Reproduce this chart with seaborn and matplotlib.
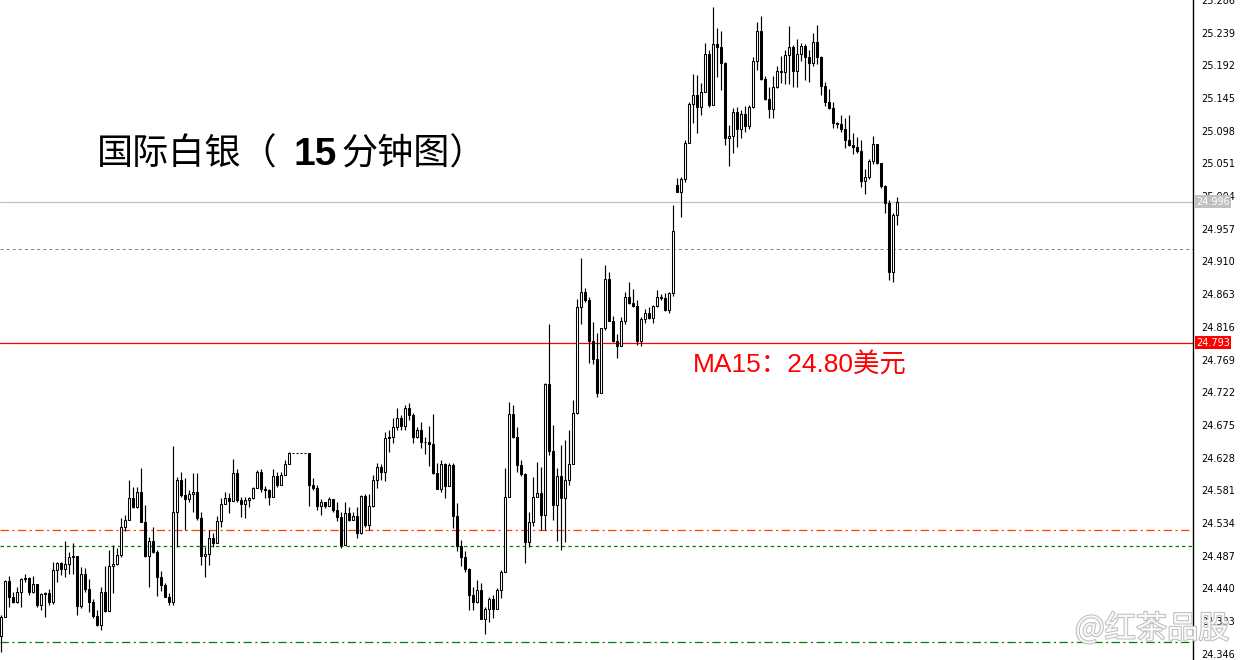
import numpy as np
import pandas as pd
import matplotlib
matplotlib.use("Agg")
import matplotlib.pyplot as plt
import matplotlib.transforms as mtransforms
import matplotlib.patheffects as pe
import seaborn as sns

# 국제은 15분봉 (종가 / 고가 / 저가), 시가는 직전 종가
close = [24.399, 24.450, 24.428, 24.420, 24.435, 24.453, 24.455, 24.435, 24.446, 24.416,
         24.432, 24.434, 24.421, 24.467, 24.476, 24.468, 24.475, 24.485, 24.486, 24.415,
         24.461, 24.439, 24.420, 24.400, 24.387, 24.435, 24.407, 24.472, 24.475, 24.488,
         24.528, 24.539, 24.570, 24.557, 24.579, 24.536, 24.486, 24.508, 24.493, 24.456,
         24.445, 24.428, 24.420, 24.550, 24.596, 24.574, 24.569, 24.576, 24.579, 24.541,
         24.487, 24.490, 24.512, 24.505, 24.537, 24.562, 24.570, 24.566, 24.606, 24.567,
         24.561, 24.567, 24.570, 24.585, 24.608, 24.583, 24.581, 24.571, 24.601, 24.588,
         24.603, 24.619, 24.634, 24.634, 24.634, 24.634, 24.634, 24.589, 24.584, 24.558,
         24.564, 24.558, 24.569, 24.553, 24.543, 24.502, 24.549, 24.539, 24.544, 24.520,
         24.573, 24.531, 24.559, 24.596, 24.614, 24.608, 24.656, 24.658, 24.672, 24.685,
         24.673, 24.699, 24.689, 24.658, 24.668, 24.651, 24.650, 24.648, 24.606, 24.583,
         24.619, 24.587, 24.618, 24.544, 24.501, 24.485, 24.468, 24.430, 24.421, 24.437,
         24.396, 24.411, 24.425, 24.411, 24.437, 24.464, 24.571, 24.691, 24.657, 24.618,
         24.605, 24.506, 24.536, 24.572, 24.577, 24.546, 24.734, 24.637, 24.560, 24.601,
         24.570, 24.596, 24.619, 24.692, 24.845, 24.866, 24.855, 24.796, 24.770, 24.721,
         24.814, 24.885, 24.825, 24.796, 24.789, 24.824, 24.859, 24.851, 24.846, 24.796,
         24.827, 24.836, 24.829, 24.846, 24.859, 24.857, 24.840, 24.865, 24.954, 25.010,
         25.028, 25.081, 25.136, 25.150, 25.132, 25.154, 25.208, 25.135, 25.223, 25.219,
         25.196, 25.087, 25.090, 25.125, 25.100, 25.122, 25.105, 25.132, 25.199, 25.242,
         25.172, 25.144, 25.129, 25.161, 25.184, 25.182, 25.207, 25.218, 25.184, 25.209,
         25.220, 25.204, 25.196, 25.225, 25.204, 25.162, 25.140, 25.130, 25.109, 25.108,
         25.101, 25.085, 25.078, 25.074, 25.069, 25.026, 25.031, 25.054, 25.079, 25.051,
         25.018, 24.994, 24.895, 24.977, 24.996]
high = [24.402, 24.452, 24.458, 24.435, 24.442, 24.455, 24.461, 24.456, 24.458, 24.446,
        24.434, 24.435, 24.439, 24.478, 24.478, 24.478, 24.508, 24.492, 24.505, 24.485,
        24.471, 24.469, 24.454, 24.425, 24.409, 24.442, 24.472, 24.495, 24.502, 24.498,
        24.541, 24.546, 24.596, 24.586, 24.586, 24.613, 24.560, 24.514, 24.528, 24.495,
        24.465, 24.448, 24.434, 24.645, 24.600, 24.607, 24.599, 24.582, 24.606, 24.606,
        24.550, 24.500, 24.524, 24.520, 24.544, 24.570, 24.579, 24.577, 24.626, 24.612,
        24.571, 24.571, 24.571, 24.586, 24.610, 24.612, 24.587, 24.583, 24.612, 24.607,
        24.607, 24.625, 24.636, 24.634, 24.634, 24.634, 24.634, 24.635, 24.599, 24.589,
        24.569, 24.564, 24.571, 24.569, 24.564, 24.550, 24.564, 24.557, 24.550, 24.557,
        24.574, 24.576, 24.576, 24.603, 24.620, 24.619, 24.665, 24.668, 24.685, 24.699,
        24.689, 24.704, 24.707, 24.692, 24.672, 24.679, 24.658, 24.674, 24.691, 24.620,
        24.625, 24.620, 24.620, 24.620, 24.563, 24.510, 24.494, 24.469, 24.442, 24.452,
        24.448, 24.413, 24.428, 24.431, 24.441, 24.467, 24.613, 24.708, 24.704, 24.672,
        24.625, 24.606, 24.550, 24.600, 24.622, 24.615, 24.735, 24.820, 24.675, 24.613,
        24.646, 24.653, 24.668, 24.711, 24.856, 24.915, 24.872, 24.859, 24.823, 24.807,
        24.814, 24.905, 24.895, 24.832, 24.806, 24.830, 24.866, 24.881, 24.870, 24.855,
        24.830, 24.842, 24.845, 24.848, 24.869, 24.863, 24.865, 24.866, 24.991, 25.030,
        25.032, 25.085, 25.139, 25.180, 25.178, 25.167, 25.224, 25.214, 25.276, 25.246,
        25.241, 25.197, 25.106, 25.131, 25.132, 25.128, 25.134, 25.135, 25.204, 25.254,
        25.263, 25.177, 25.161, 25.177, 25.191, 25.205, 25.214, 25.249, 25.221, 25.230,
        25.224, 25.223, 25.214, 25.239, 25.250, 25.205, 25.168, 25.158, 25.139, 25.111,
        25.121, 25.116, 25.121, 25.095, 25.089, 25.085, 25.043, 25.057, 25.091, 25.076,
        25.052, 25.020, 24.999, 24.980, 25.003]
low = [24.349, 24.402, 24.413, 24.419, 24.419, 24.413, 24.449, 24.431, 24.434, 24.413,
       24.409, 24.399, 24.416, 24.418, 24.449, 24.459, 24.456, 24.461, 24.461, 24.402,
       24.412, 24.435, 24.406, 24.398, 24.386, 24.380, 24.406, 24.408, 24.434, 24.474,
       24.485, 24.523, 24.538, 24.556, 24.556, 24.536, 24.485, 24.442, 24.491, 24.429,
       24.436, 24.428, 24.416, 24.416, 24.500, 24.571, 24.524, 24.564, 24.550, 24.538,
       24.474, 24.456, 24.474, 24.500, 24.507, 24.528, 24.563, 24.548, 24.567, 24.564,
       24.543, 24.541, 24.557, 24.569, 24.586, 24.579, 24.570, 24.560, 24.571, 24.586,
       24.590, 24.603, 24.619, 24.634, 24.634, 24.634, 24.634, 24.559, 24.582, 24.553,
       24.546, 24.556, 24.559, 24.550, 24.537, 24.498, 24.504, 24.537, 24.538, 24.512,
       24.518, 24.528, 24.524, 24.557, 24.584, 24.596, 24.594, 24.636, 24.649, 24.668,
       24.668, 24.668, 24.682, 24.649, 24.656, 24.642, 24.633, 24.616, 24.605, 24.583,
       24.579, 24.570, 24.587, 24.527, 24.494, 24.472, 24.464, 24.409, 24.409, 24.419,
       24.396, 24.375, 24.392, 24.398, 24.412, 24.426, 24.464, 24.573, 24.656, 24.607,
       24.602, 24.477, 24.500, 24.530, 24.571, 24.524, 24.524, 24.632, 24.538, 24.508,
       24.495, 24.507, 24.589, 24.620, 24.691, 24.820, 24.852, 24.764, 24.763, 24.715,
       24.721, 24.812, 24.824, 24.794, 24.771, 24.789, 24.820, 24.849, 24.845, 24.790,
       24.789, 24.822, 24.827, 24.822, 24.845, 24.855, 24.839, 24.836, 24.860, 25.010,
       24.974, 25.024, 25.080, 25.109, 25.095, 25.121, 25.154, 25.132, 25.135, 25.175,
       25.157, 25.078, 25.047, 25.066, 25.075, 25.088, 25.096, 25.101, 25.131, 25.185,
       25.171, 25.142, 25.116, 25.116, 25.160, 25.167, 25.165, 25.165, 25.161, 25.161,
       25.198, 25.171, 25.168, 25.191, 25.194, 25.149, 25.134, 25.129, 25.102, 25.102,
       25.096, 25.073, 25.076, 25.065, 25.066, 25.017, 25.007, 25.029, 25.050, 25.050,
       25.016, 24.980, 24.883, 24.881, 24.963]
first_open = 24.371
gap_open = {169: 25.020}   # 갭이 난 봉

# 수평선 레벨
last_price = 24.996
ma15 = 24.793
level_gray = 24.928
level_orange = 24.524
level_green = 24.501
level_green2 = 24.363

tick_start, tick_step, n_ticks = 24.346, 0.047, 21

df = pd.DataFrame({"close": close, "high": high, "low": low})
df["open"] = df["close"].shift(1).fillna(first_open)
for k, v in gap_open.items():
    df.loc[k, "open"] = v
df["high"] = df[["high", "open", "close"]].max(axis=1)
df["low"] = df[["low", "open", "close"]].min(axis=1)
df["x"] = np.arange(len(df))

sns.set_theme(style="white")
plt.rcParams["font.family"] = ["DejaVu Sans"]
plt.rcParams["lines.scale_dashes"] = False
cjk = ["Noto Sans CJK SC", "DejaVu Sans"]

fig = plt.figure(figsize=(12.43, 6.6), dpi=100)
ax = fig.add_axes([0, 0, 1193 / 1243, 1])

# 수평선
ax.axhline(last_price, color="#c0c0c0", lw=0.9, zorder=0)
ax.axhline(level_gray, color="#808080", lw=0.7, ls=(0, (2.2, 2.2)), zorder=0)
ax.axhline(ma15, color="#ff0000", lw=0.9, zorder=0)
ax.axhline(level_orange, color="#ff4000", lw=0.9, ls=(0, (6, 2.5, 1.5, 2.5)), zorder=0)
ax.axhline(level_green, color="#008000", lw=0.9, ls=(0, (2.5, 2.2)), zorder=0)
ax.axhline(level_green2, color="#008000", lw=0.9, ls=(0, (6, 2.5, 1.5, 2.5)), zorder=0)

# 캔들: 꼬리 + 몸통
ax.vlines(df["x"], df["low"], df["high"], color="black", lw=0.85, zorder=1)
up = df["close"] >= df["open"]
ax.bar(df.loc[up, "x"], df.loc[up, "close"] - df.loc[up, "open"], bottom=df.loc[up, "open"],
       width=0.55, color="white", edgecolor="black", linewidth=0.75, zorder=2)
ax.bar(df.loc[~up, "x"], df.loc[~up, "close"] - df.loc[~up, "open"], bottom=df.loc[~up, "open"],
       width=0.55, color="black", edgecolor="black", linewidth=0.75, zorder=2)

ax.set_xlim(-0.25, 298)
ax.set_ylim(24.337, 25.286)
ticks = np.round(tick_start + tick_step * np.arange(n_ticks), 3)
ax.yaxis.tick_right()
ax.set_yticks(ticks)
ax.set_yticklabels([f"{t:.3f}" for t in ticks])
ax.set_xticks([])
ax.tick_params(axis="y", direction="out", length=4, width=0.8, colors="black",
               labelsize=7, pad=2, right=True, left=False)
sns.despine(ax=ax, left=True, top=True, bottom=True, right=False)
ax.spines["right"].set_color("black")
ax.spines["right"].set_linewidth(1)
ax.grid(False)

# 가격 라벨
trans = mtransforms.blended_transform_factory(ax.transAxes, ax.transData)
ax.text(1.0025, ma15, f"{ma15:.3f}", transform=trans, color="white", fontsize=7,
        va="center", ha="left", bbox=dict(boxstyle="square,pad=0.15", fc="#ff0000", ec="none"),
        clip_on=False)
ax.text(1.0025, last_price, f"{last_price:.3f}", transform=trans, color="white", fontsize=7,
        va="center", ha="left", bbox=dict(boxstyle="square,pad=0.15", fc="#c0c0c0", ec="none"),
        clip_on=False)

# 제목
ty = 1 - 155 / 660
fig.text(97 / 1243, ty, "国际白银（", family=cjk, fontsize=26, fontweight="light",
         va="center", ha="left", color="black")
fig.text(294 / 1243, ty, "15", family=["Liberation Sans", "DejaVu Sans"], fontsize=28,
         fontweight="bold", va="center", ha="left", color="black")
fig.text(341 / 1243, ty, "分钟图）", family=cjk, fontsize=26, fontweight="light",
         va="center", ha="left", color="black")

# MA15 주석
fig.text(693 / 1243, 1 - 365 / 660, "MA15：24.80美元",
         family=["Liberation Sans", "Noto Sans CJK SC"], fontsize=19,
         va="center", ha="left", color="#ff0000")

# 워터마크
fig.text(1075 / 1243, 1 - 629 / 660, "@红茶品股", family=cjk, fontsize=22.5, va="center", ha="left",
         color="white", alpha=0.9,
         path_effects=[pe.withStroke(linewidth=1.5, foreground="#b8b8b8")])

fig.savefig("out.png", dpi=100)
